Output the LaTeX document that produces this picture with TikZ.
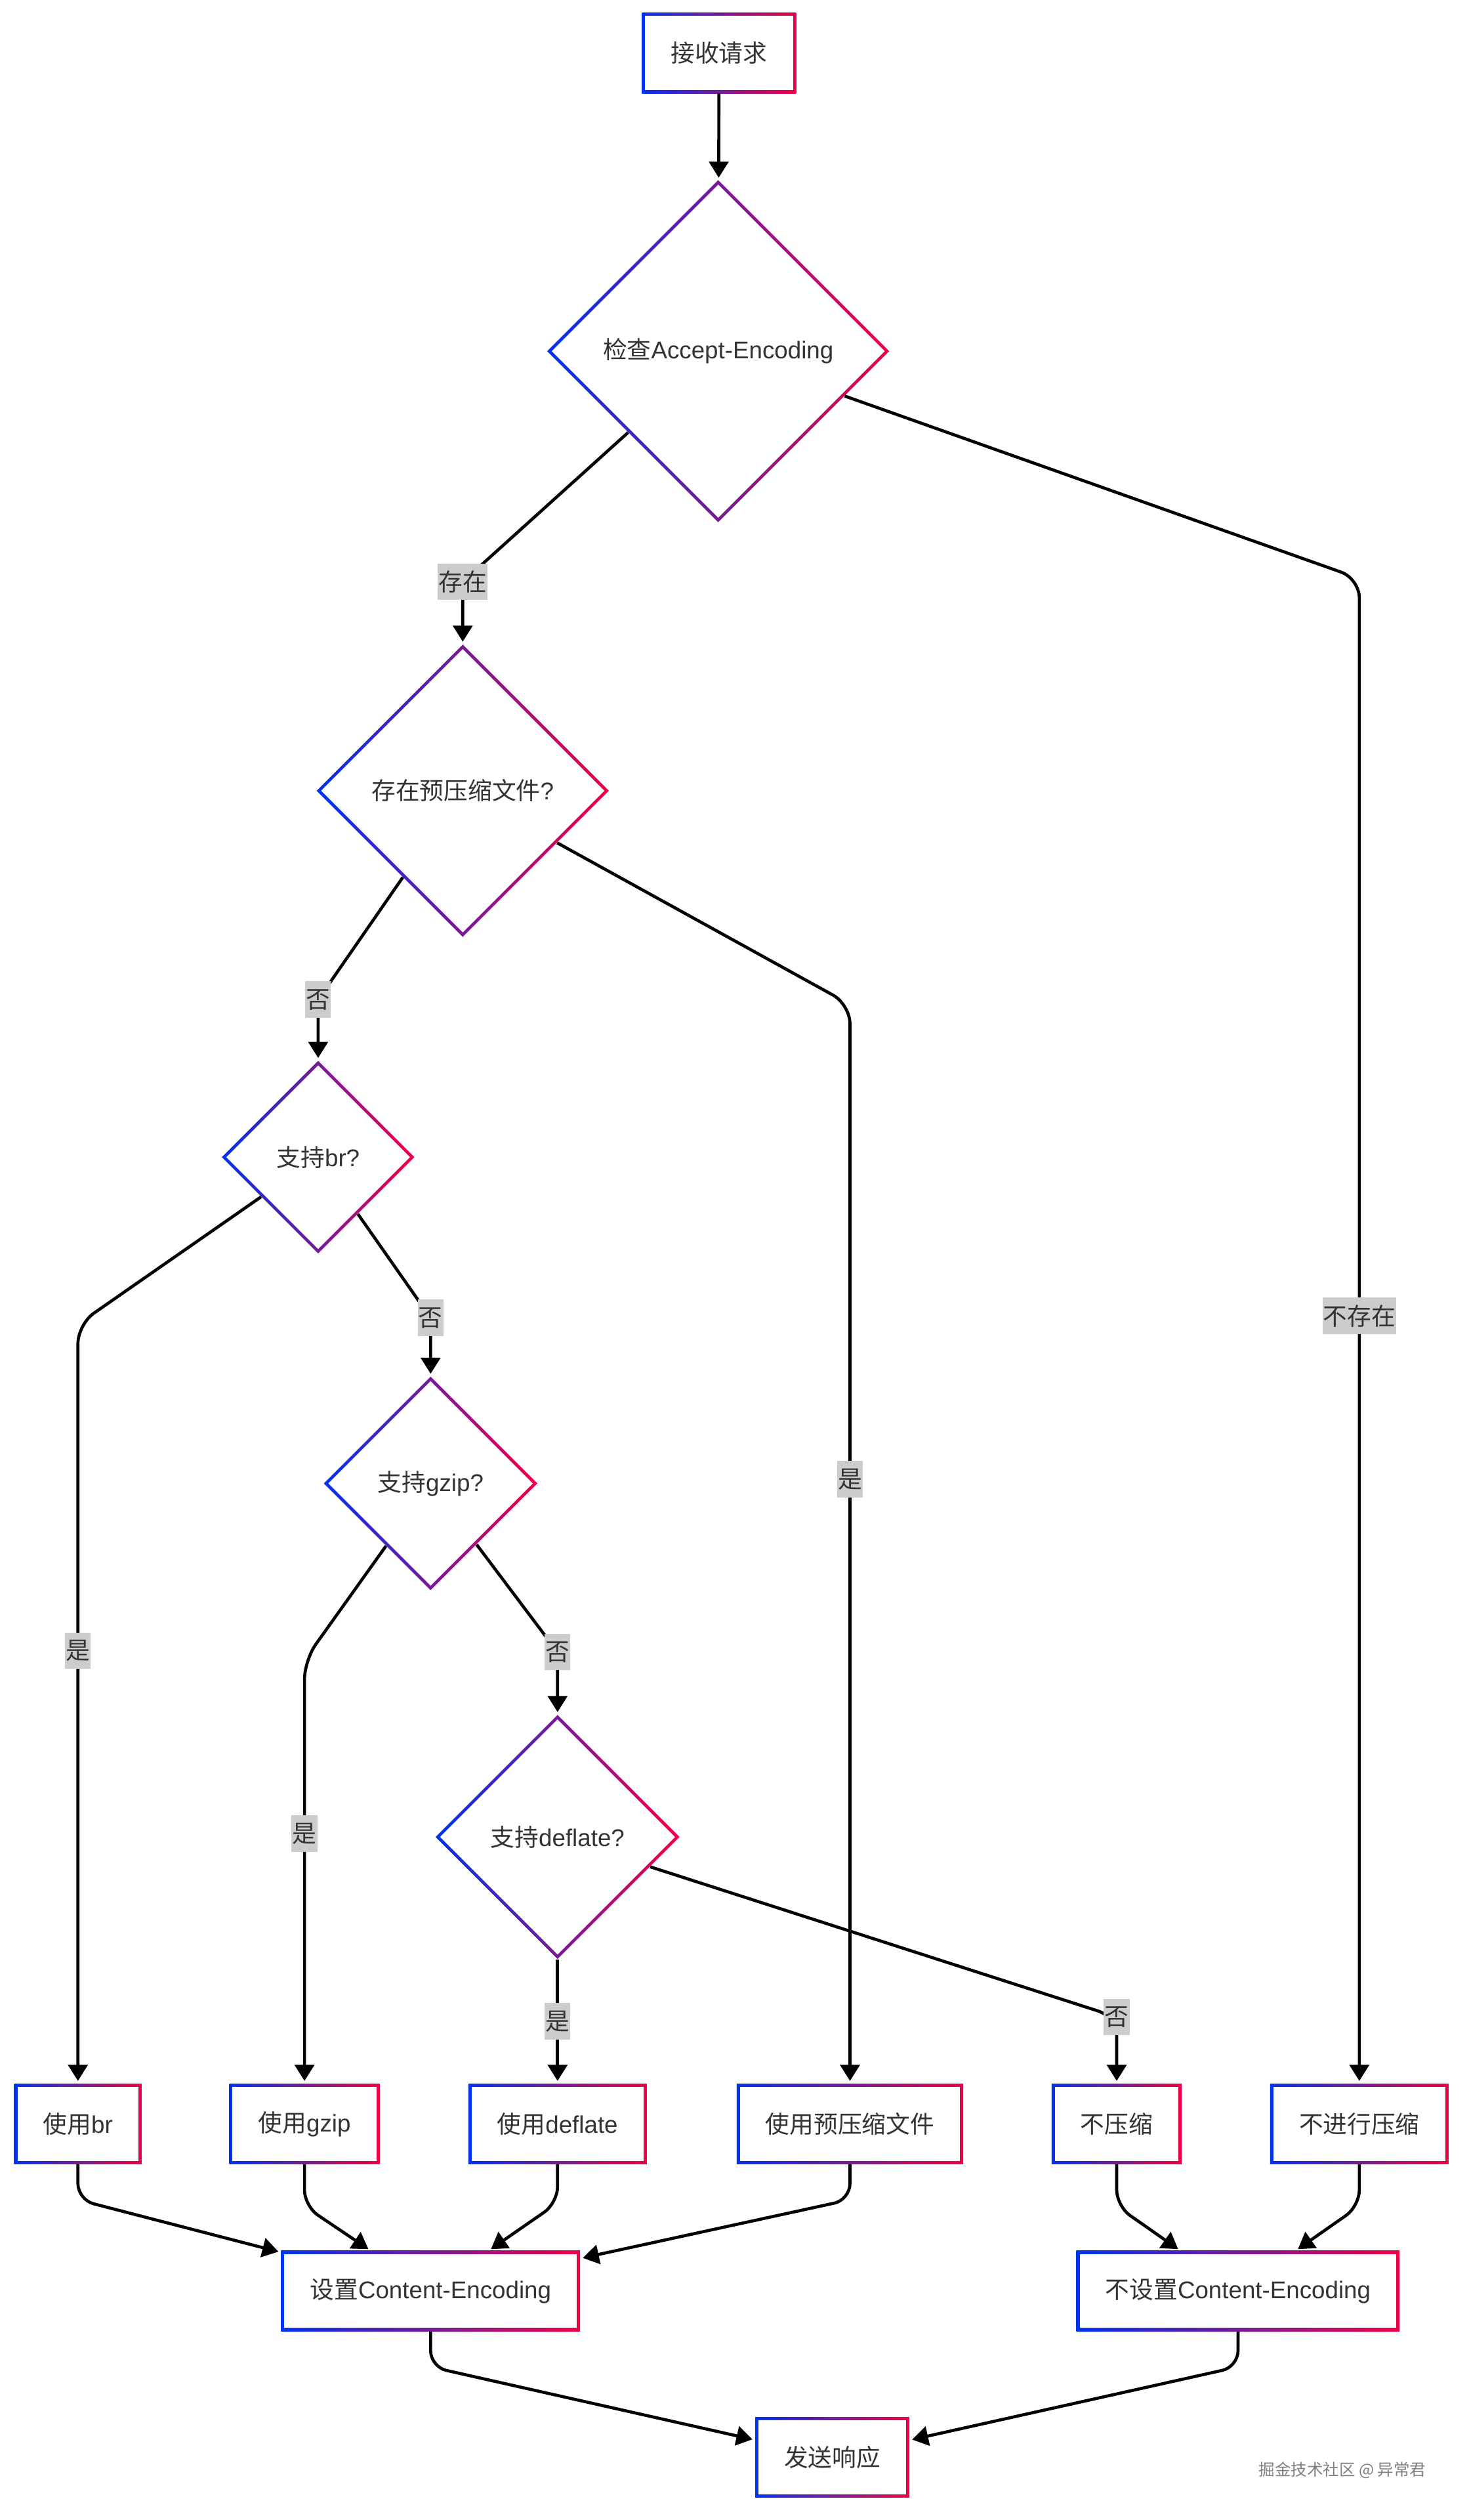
\documentclass[tikz,border=0pt]{standalone}
\usepackage{fontspec}
\setmainfont{Liberation Sans}
\newfontfamily\cjk{Noto Sans CJK SC}
\usetikzlibrary{arrows.meta,positioning,calc,shapes.geometric}
\definecolor{gblue}{HTML}{0033EE}
\definecolor{gred}{HTML}{EE0044}
\definecolor{textgray}{HTML}{333333}
\definecolor{lblgray}{HTML}{CCCCCC}
\tikzset{
  gbox/.style={rectangle, left color=gblue, right color=gred, minimum height=50pt, inner xsep=18pt,
    text=textgray, font=\fontsize{15pt}{18pt}\selectfont,
    path picture={\fill[white] ([shift={(2pt,2pt)}]path picture bounding box.south west)
      rectangle ([shift={(-2pt,-2pt)}]path picture bounding box.north east);}},
  gdia/.style={diamond, aspect=1, inner sep=0pt, left color=gblue, right color=gred,
    text=textgray, font=\fontsize{15pt}{18pt}\selectfont,
    path picture={\fill[white] ($(path picture bounding box.north)+(0,-2.8pt)$)
      -- ($(path picture bounding box.east)+(-2.8pt,0)$)
      -- ($(path picture bounding box.south)+(0,2.8pt)$)
      -- ($(path picture bounding box.west)+(2.8pt,0)$) -- cycle;}},
  lbl/.style={sharp corners, fill=lblgray, text=textgray, inner xsep=0.5pt, inner ysep=0pt, minimum height=22.7pt,
    font=\cjk\fontsize{15pt}{18pt}\selectfont},
  edge/.style={-{Triangle[length=10pt, width=12pt]}, line width=1.9pt, rounded corners=12pt, shorten >=1.5pt}
}

\begin{document}
\begin{tikzpicture}[x=1pt, y=-1pt]
\fill[white] (0,0) rectangle (914,1568);
% decisions
\node[gbox] (req) at (447.5,33) {{\cjk 接收请求}};
\node[gdia, minimum size=213pt] (chk) at (447,218.5) {{\cjk 检查}Accept-Encoding};
\node[gdia, minimum size=182pt] (pre) at (288,492) {{\cjk 存在预压缩文件}?};
\node[gdia, minimum size=120pt] (br) at (198,720) {{\cjk 支持}br?};
\node[gdia, minimum size=133pt] (gz) at (268,923) {{\cjk 支持}gzip?};
\node[gdia, minimum size=152pt] (df) at (347,1143) {{\cjk 支持}deflate?};
% actions
\node[gbox] (usebr) at (48.5,1321.5) {{\cjk 使用}br};
\node[gbox] (usegz) at (189.5,1321.5) {{\cjk 使用}gzip};
\node[gbox] (usedf) at (347,1321.5) {{\cjk 使用}deflate};
\node[gbox] (usepre) at (529,1321.5) {{\cjk 使用预压缩文件}};
\node[gbox] (nocomp) at (695,1321.5) {{\cjk 不压缩}};
\node[gbox] (noproc) at (846,1321.5) {{\cjk 不进行压缩}};
\node[gbox] (setce) at (268,1425.5) {{\cjk 设置}Content-Encoding};
\node[gbox] (nosetce) at (770.5,1425.5) {{\cjk 不设置}Content-Encoding};
\node[gbox] (send) at (518,1529) {{\cjk 发送响应}};
\node[text=gray, font=\cjk\fontsize{10pt}{12pt}\selectfont] (wm) at (835.5,1537) {掘金技术社区 @ 异常君};

\draw[edge] (req) -- (chk);
\draw[edge] (chk) -- (pre.north |- 0,362) node[lbl] (l1) {存在} -- (pre);
\draw[edge] (chk) -- (noproc.north |- 0,360) -- node[lbl, pos=0.49] (l2) {不存在} (noproc);
\draw[edge] (pre) -- (br.north |- 0,622) node[lbl] (l3) {否} -- (br);
\draw[edge] (pre) -- (usepre.north |- 0,625) -- node[lbl, pos=0.44] (l4) {是} (usepre);
\draw[edge] (br) -- (usebr.north |- 0,824) -- node[lbl, pos=0.43] (l5) {是} (usebr);
\draw[edge] (br) -- (gz.north |- 0,820) node[lbl] (l6) {否} -- (gz);
\draw[edge] (gz) -- (usegz.north |- 0,1033) -- node[lbl, pos=0.41] (l7) {是} (usegz);
\draw[edge] (gz) -- (df.north |- 0,1028) node[lbl] (l8) {否} -- (df);
\draw[edge] (df) -- node[lbl] (l9) {是} (usedf);
\draw[edge] (df) -- (nocomp.north |- 0,1255) node[lbl] (l10) {否} -- (nocomp);

\draw[edge, rounded corners=10pt] (usebr.south) -- ++(0,22) -- (setce);
\draw[edge, rounded corners=10pt] (usegz.south) -- ++(0,26) -- (setce);
\draw[edge, rounded corners=10pt] (usedf.south) -- ++(0,24) -- (setce);
\draw[edge, rounded corners=10pt] (usepre.south) -- ++(0,22) -- (setce);
\draw[edge, rounded corners=10pt] (nocomp.south) -- ++(0,26) -- (nosetce);
\draw[edge, rounded corners=10pt] (noproc.south) -- ++(0,26) -- (nosetce);
\draw[edge, rounded corners=10pt] (setce.south) -- ++(0,22) -- (send);
\draw[edge, rounded corners=10pt] (nosetce.south) -- ++(0,22) -- (send);
\end{tikzpicture}
\end{document}
